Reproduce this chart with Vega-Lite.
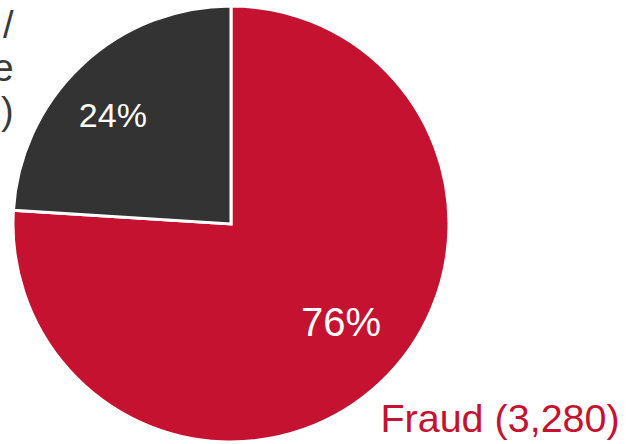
{
  "$schema": "https://vega.github.io/schema/vega-lite/v6.json",
  "width": 462,
  "height": 448,
  "autosize": {"type": "none"},
  "padding": {"left": 0, "top": 0, "right": 178, "bottom": 0},
  "background": "white",
  "config": {"view": {"stroke": null}, "font": "Liberation Sans"},
  "data": {
    "values": [
      {"cat": "Fraud", "count": 3280, "pct": "76%", "label": "Fraud (3,280)"},
      {"cat": "Waste / Abuse", "count": 1036, "pct": "24%", "label": "Waste /\nAbuse\n(1,036)"}
    ]
  },
  "encoding": {
    "theta": {"field": "count", "type": "quantitative", "stack": true},
    "order": {"field": "cat", "type": "nominal"}
  },
  "layer": [
    {
      "mark": {"type": "arc", "outerRadius": 218, "stroke": "white", "strokeWidth": 3},
      "encoding": {
        "color": {
          "field": "cat", "type": "nominal",
          "scale": {"domain": ["Fraud", "Waste / Abuse"], "range": ["#C41230", "#333333"]},
          "legend": null
        }
      }
    },
    {
      "mark": {"type": "text", "radius": 155, "fontSize": 40, "color": "white", "align": "center", "baseline": "middle", "dx": 4, "dy": -13},
      "encoding": {
        "detail": {"field": "cat", "type": "nominal"},
        "text": {"condition": {"test": "datum.cat === 'Fraud'", "field": "pct"}, "value": ""}
      }
    },
    {
      "mark": {"type": "text", "radius": 155, "fontSize": 34, "color": "white", "align": "center", "baseline": "middle", "dx": -12, "dy": 6},
      "encoding": {
        "detail": {"field": "cat", "type": "nominal"},
        "text": {"condition": {"test": "datum.cat !== 'Fraud'", "field": "pct"}, "value": ""}
      }
    },
    {
      "mark": {"type": "text", "radius": 300, "fontSize": 39.5, "color": "#C41230", "align": "left", "baseline": "alphabetic", "dx": -56, "dy": -11},
      "encoding": {
        "detail": {"field": "cat", "type": "nominal"},
        "text": {"condition": {"test": "datum.cat === 'Fraud'", "field": "label"}, "value": ""}
      }
    },
    {
      "mark": {"type": "text", "radius": 240, "fontSize": 38, "lineHeight": 43, "lineBreak": "\n", "color": "#3a3a3a", "align": "right", "baseline": "middle", "dx": -53, "dy": -22},
      "encoding": {
        "detail": {"field": "cat", "type": "nominal"},
        "text": {"condition": {"test": "datum.cat !== 'Fraud'", "field": "label"}, "value": ""}
      }
    }
  ]
}
